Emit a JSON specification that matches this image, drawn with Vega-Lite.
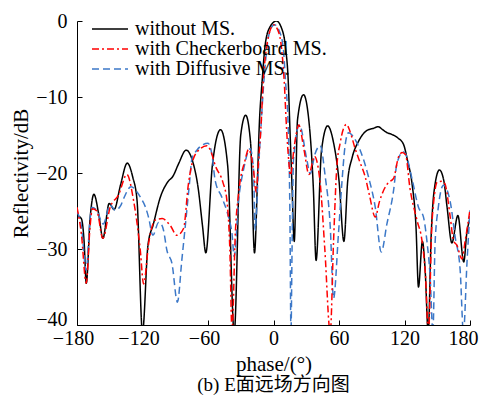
{
  "$schema": "https://vega.github.io/schema/vega-lite/v6.json",
  "width": 393,
  "height": 304,
  "autosize": {"type": "none"},
  "padding": {"left": 77, "top": 21, "right": 10, "bottom": 72},
  "config": {
    "view": {"stroke": null},
    "font": "Liberation Serif",
    "axis": {
      "domainColor": "#000000",
      "domainWidth": 1,
      "tickColor": "#000000",
      "tickWidth": 1,
      "tickSize": -5,
      "grid": false,
      "labelFont": "Liberation Serif",
      "labelFontSize": 20,
      "labelColor": "#000000",
      "titleFont": "Liberation Serif",
      "titleFontSize": 21,
      "titleFontWeight": "normal",
      "titleColor": "#000000"
    }
  },
  "title": {
    "text": "(b) E面远场方向图",
    "orient": "bottom",
    "font": "Liberation Serif, Noto Sans CJK SC",
    "fontSize": 19,
    "fontWeight": "normal",
    "color": "#000000",
    "offset": 2
  },
  "data": {
    "values": [
      {"s": "without MS.", "x": -180, "y": -25.6},
      {"s": "without MS.", "x": -176, "y": -26.0},
      {"s": "without MS.", "x": -173.5, "y": -29},
      {"s": "without MS.", "x": -171.5, "y": -34.5},
      {"s": "without MS.", "x": -168, "y": -26},
      {"s": "without MS.", "x": -164.5, "y": -22.8},
      {"s": "without MS.", "x": -160, "y": -25.5},
      {"s": "without MS.", "x": -156.3, "y": -28.6},
      {"s": "without MS.", "x": -150.5, "y": -24.0},
      {"s": "without MS.", "x": -146, "y": -24.8},
      {"s": "without MS.", "x": -140, "y": -21.5},
      {"s": "without MS.", "x": -134, "y": -18.7},
      {"s": "without MS.", "x": -129, "y": -20.5},
      {"s": "without MS.", "x": -125, "y": -23.6},
      {"s": "without MS.", "x": -120, "y": -41},
      {"s": "without MS.", "x": -115, "y": -29.5},
      {"s": "without MS.", "x": -110, "y": -26.7},
      {"s": "without MS.", "x": -103.7, "y": -23.2},
      {"s": "without MS.", "x": -97, "y": -21.2},
      {"s": "without MS.", "x": -92, "y": -20.4},
      {"s": "without MS.", "x": -87, "y": -18.8},
      {"s": "without MS.", "x": -80, "y": -17.0},
      {"s": "without MS.", "x": -74, "y": -18.5},
      {"s": "without MS.", "x": -69, "y": -22},
      {"s": "without MS.", "x": -65, "y": -27},
      {"s": "without MS.", "x": -62, "y": -30.5},
      {"s": "without MS.", "x": -56, "y": -19},
      {"s": "without MS.", "x": -48.5, "y": -14.3},
      {"s": "without MS.", "x": -42, "y": -19},
      {"s": "without MS.", "x": -36, "y": -41},
      {"s": "without MS.", "x": -30, "y": -15},
      {"s": "without MS.", "x": -25.5, "y": -12.4},
      {"s": "without MS.", "x": -21, "y": -16},
      {"s": "without MS.", "x": -17.4, "y": -30.5},
      {"s": "without MS.", "x": -14.5, "y": -20},
      {"s": "without MS.", "x": -13.1, "y": -14},
      {"s": "without MS.", "x": -10.4, "y": -7.9},
      {"s": "without MS.", "x": -7.9, "y": -3.5},
      {"s": "without MS.", "x": -4, "y": -1},
      {"s": "without MS.", "x": 2.7, "y": 0},
      {"s": "without MS.", "x": 7, "y": -0.8},
      {"s": "without MS.", "x": 11, "y": -3.5},
      {"s": "without MS.", "x": 13.5, "y": -7.9},
      {"s": "without MS.", "x": 15, "y": -14},
      {"s": "without MS.", "x": 16.8, "y": -21},
      {"s": "without MS.", "x": 19, "y": -29},
      {"s": "without MS.", "x": 22, "y": -13},
      {"s": "without MS.", "x": 27.5, "y": -9.7},
      {"s": "without MS.", "x": 33, "y": -14},
      {"s": "without MS.", "x": 36.5, "y": -22},
      {"s": "without MS.", "x": 39, "y": -31.5},
      {"s": "without MS.", "x": 44, "y": -17},
      {"s": "without MS.", "x": 49.6, "y": -13.8},
      {"s": "without MS.", "x": 55, "y": -16},
      {"s": "without MS.", "x": 60, "y": -21},
      {"s": "without MS.", "x": 64.5, "y": -29},
      {"s": "without MS.", "x": 68, "y": -21},
      {"s": "without MS.", "x": 72, "y": -18},
      {"s": "without MS.", "x": 78, "y": -15.8},
      {"s": "without MS.", "x": 85.6, "y": -14.4},
      {"s": "without MS.", "x": 92, "y": -14.1},
      {"s": "without MS.", "x": 95.8, "y": -13.9},
      {"s": "without MS.", "x": 100, "y": -14.3},
      {"s": "without MS.", "x": 104, "y": -14.7},
      {"s": "without MS.", "x": 108, "y": -14.9},
      {"s": "without MS.", "x": 114, "y": -15.4},
      {"s": "without MS.", "x": 119, "y": -16.2},
      {"s": "without MS.", "x": 123, "y": -18.5},
      {"s": "without MS.", "x": 127, "y": -21.5},
      {"s": "without MS.", "x": 130.5, "y": -27},
      {"s": "without MS.", "x": 132.8, "y": -35},
      {"s": "without MS.", "x": 136.4, "y": -29},
      {"s": "without MS.", "x": 139, "y": -33},
      {"s": "without MS.", "x": 141.7, "y": -41},
      {"s": "without MS.", "x": 144.5, "y": -28},
      {"s": "without MS.", "x": 147, "y": -22.5},
      {"s": "without MS.", "x": 152, "y": -19.6},
      {"s": "without MS.", "x": 156, "y": -21},
      {"s": "without MS.", "x": 159, "y": -24.5},
      {"s": "without MS.", "x": 163.4, "y": -29.2},
      {"s": "without MS.", "x": 168.9, "y": -25.6},
      {"s": "without MS.", "x": 174.3, "y": -31.7},
      {"s": "without MS.", "x": 177, "y": -28},
      {"s": "without MS.", "x": 180, "y": -26},

      {"s": "with Diffusive MS.", "x": -180, "y": -25.1},
      {"s": "with Diffusive MS.", "x": -176, "y": -27},
      {"s": "with Diffusive MS.", "x": -171.6, "y": -32.8},
      {"s": "with Diffusive MS.", "x": -168, "y": -26},
      {"s": "with Diffusive MS.", "x": -166.3, "y": -24.5},
      {"s": "with Diffusive MS.", "x": -162, "y": -24.9},
      {"s": "with Diffusive MS.", "x": -156, "y": -26.7},
      {"s": "with Diffusive MS.", "x": -149.6, "y": -24.2},
      {"s": "with Diffusive MS.", "x": -145, "y": -24.9},
      {"s": "with Diffusive MS.", "x": -140, "y": -24.3},
      {"s": "with Diffusive MS.", "x": -136.8, "y": -23.2},
      {"s": "with Diffusive MS.", "x": -130.5, "y": -21.8},
      {"s": "with Diffusive MS.", "x": -125, "y": -22.5},
      {"s": "with Diffusive MS.", "x": -121.5, "y": -23.3},
      {"s": "with Diffusive MS.", "x": -117, "y": -24.6},
      {"s": "with Diffusive MS.", "x": -114.5, "y": -25.8},
      {"s": "with Diffusive MS.", "x": -110.5, "y": -28.2},
      {"s": "with Diffusive MS.", "x": -105.3, "y": -26.5},
      {"s": "with Diffusive MS.", "x": -102.5, "y": -26.8},
      {"s": "with Diffusive MS.", "x": -100.8, "y": -27.5},
      {"s": "with Diffusive MS.", "x": -97.6, "y": -30.2},
      {"s": "with Diffusive MS.", "x": -93, "y": -31.9},
      {"s": "with Diffusive MS.", "x": -88, "y": -37},
      {"s": "with Diffusive MS.", "x": -84, "y": -31.5},
      {"s": "with Diffusive MS.", "x": -80.9, "y": -27.1},
      {"s": "with Diffusive MS.", "x": -77, "y": -21.4},
      {"s": "with Diffusive MS.", "x": -74.7, "y": -18.1},
      {"s": "with Diffusive MS.", "x": -70.2, "y": -17},
      {"s": "with Diffusive MS.", "x": -65, "y": -16.3},
      {"s": "with Diffusive MS.", "x": -60, "y": -16.1},
      {"s": "with Diffusive MS.", "x": -56.5, "y": -17.5},
      {"s": "with Diffusive MS.", "x": -53.4, "y": -21},
      {"s": "with Diffusive MS.", "x": -47.3, "y": -23.2},
      {"s": "with Diffusive MS.", "x": -41.2, "y": -25.8},
      {"s": "with Diffusive MS.", "x": -38, "y": -28},
      {"s": "with Diffusive MS.", "x": -36, "y": -31},
      {"s": "with Diffusive MS.", "x": -32, "y": -23.6},
      {"s": "with Diffusive MS.", "x": -27.5, "y": -19.6},
      {"s": "with Diffusive MS.", "x": -21.3, "y": -16.8},
      {"s": "with Diffusive MS.", "x": -18.3, "y": -19.6},
      {"s": "with Diffusive MS.", "x": -16.8, "y": -27.5},
      {"s": "with Diffusive MS.", "x": -14, "y": -20},
      {"s": "with Diffusive MS.", "x": -11.5, "y": -14},
      {"s": "with Diffusive MS.", "x": -8.8, "y": -7.9},
      {"s": "with Diffusive MS.", "x": -6, "y": -3.5},
      {"s": "with Diffusive MS.", "x": -2.5, "y": -1},
      {"s": "with Diffusive MS.", "x": 1, "y": -0.5},
      {"s": "with Diffusive MS.", "x": 5, "y": -1.2},
      {"s": "with Diffusive MS.", "x": 8.9, "y": -3.5},
      {"s": "with Diffusive MS.", "x": 11, "y": -7.9},
      {"s": "with Diffusive MS.", "x": 13.5, "y": -14},
      {"s": "with Diffusive MS.", "x": 15, "y": -25},
      {"s": "with Diffusive MS.", "x": 16, "y": -41},
      {"s": "with Diffusive MS.", "x": 17, "y": -30},
      {"s": "with Diffusive MS.", "x": 18.3, "y": -18.3},
      {"s": "with Diffusive MS.", "x": 23.8, "y": -13.7},
      {"s": "with Diffusive MS.", "x": 30.6, "y": -18.3},
      {"s": "with Diffusive MS.", "x": 33.6, "y": -20.1},
      {"s": "with Diffusive MS.", "x": 38, "y": -17.5},
      {"s": "with Diffusive MS.", "x": 42.8, "y": -16.4},
      {"s": "with Diffusive MS.", "x": 47.4, "y": -20.5},
      {"s": "with Diffusive MS.", "x": 52, "y": -27.1},
      {"s": "with Diffusive MS.", "x": 55, "y": -36.5},
      {"s": "with Diffusive MS.", "x": 59.5, "y": -28},
      {"s": "with Diffusive MS.", "x": 62.6, "y": -21.4},
      {"s": "with Diffusive MS.", "x": 65.5, "y": -16.5},
      {"s": "with Diffusive MS.", "x": 68.7, "y": -14.7},
      {"s": "with Diffusive MS.", "x": 73, "y": -15.2},
      {"s": "with Diffusive MS.", "x": 79.4, "y": -17},
      {"s": "with Diffusive MS.", "x": 87, "y": -20.5},
      {"s": "with Diffusive MS.", "x": 93.2, "y": -24.5},
      {"s": "with Diffusive MS.", "x": 98.7, "y": -30.4},
      {"s": "with Diffusive MS.", "x": 103.9, "y": -26.7},
      {"s": "with Diffusive MS.", "x": 110, "y": -22.3},
      {"s": "with Diffusive MS.", "x": 113, "y": -18.8},
      {"s": "with Diffusive MS.", "x": 119, "y": -17.2},
      {"s": "with Diffusive MS.", "x": 121, "y": -17.5},
      {"s": "with Diffusive MS.", "x": 126.8, "y": -20.7},
      {"s": "with Diffusive MS.", "x": 132.8, "y": -24.5},
      {"s": "with Diffusive MS.", "x": 137.4, "y": -25.8},
      {"s": "with Diffusive MS.", "x": 140.5, "y": -28.9},
      {"s": "with Diffusive MS.", "x": 143.5, "y": -33.7},
      {"s": "with Diffusive MS.", "x": 146, "y": -41},
      {"s": "with Diffusive MS.", "x": 148, "y": -29.3},
      {"s": "with Diffusive MS.", "x": 151, "y": -24.5},
      {"s": "with Diffusive MS.", "x": 155.7, "y": -21.6},
      {"s": "with Diffusive MS.", "x": 161.9, "y": -23.8},
      {"s": "with Diffusive MS.", "x": 166.4, "y": -28.4},
      {"s": "with Diffusive MS.", "x": 171, "y": -32.8},
      {"s": "with Diffusive MS.", "x": 174, "y": -41},
      {"s": "with Diffusive MS.", "x": 177.2, "y": -31.9},
      {"s": "with Diffusive MS.", "x": 180, "y": -24.9},

      {"s": "with Checkerboard MS.", "x": -180, "y": -24.5},
      {"s": "with Checkerboard MS.", "x": -176, "y": -28},
      {"s": "with Checkerboard MS.", "x": -171.6, "y": -34.5},
      {"s": "with Checkerboard MS.", "x": -168, "y": -27},
      {"s": "with Checkerboard MS.", "x": -166, "y": -24.7},
      {"s": "with Checkerboard MS.", "x": -161.8, "y": -25},
      {"s": "with Checkerboard MS.", "x": -156.3, "y": -28.6},
      {"s": "with Checkerboard MS.", "x": -149.6, "y": -24.5},
      {"s": "with Checkerboard MS.", "x": -142, "y": -22.9},
      {"s": "with Checkerboard MS.", "x": -134.3, "y": -20.2},
      {"s": "with Checkerboard MS.", "x": -128.2, "y": -23.6},
      {"s": "with Checkerboard MS.", "x": -122, "y": -30.2},
      {"s": "with Checkerboard MS.", "x": -119, "y": -34.6},
      {"s": "with Checkerboard MS.", "x": -114, "y": -28.9},
      {"s": "with Checkerboard MS.", "x": -108.4, "y": -26.2},
      {"s": "with Checkerboard MS.", "x": -102, "y": -26.0},
      {"s": "with Checkerboard MS.", "x": -94.6, "y": -26.9},
      {"s": "with Checkerboard MS.", "x": -88.5, "y": -28.2},
      {"s": "with Checkerboard MS.", "x": -82.4, "y": -27.3},
      {"s": "with Checkerboard MS.", "x": -77.9, "y": -21.4},
      {"s": "with Checkerboard MS.", "x": -73.3, "y": -18.1},
      {"s": "with Checkerboard MS.", "x": -67, "y": -16.8},
      {"s": "with Checkerboard MS.", "x": -61, "y": -16.4},
      {"s": "with Checkerboard MS.", "x": -57, "y": -17.3},
      {"s": "with Checkerboard MS.", "x": -53.4, "y": -19.0},
      {"s": "with Checkerboard MS.", "x": -46.4, "y": -21.2},
      {"s": "with Checkerboard MS.", "x": -42.7, "y": -23.6},
      {"s": "with Checkerboard MS.", "x": -40, "y": -30},
      {"s": "with Checkerboard MS.", "x": -38, "y": -41},
      {"s": "with Checkerboard MS.", "x": -35, "y": -28},
      {"s": "with Checkerboard MS.", "x": -32, "y": -22.7},
      {"s": "with Checkerboard MS.", "x": -26, "y": -18.3},
      {"s": "with Checkerboard MS.", "x": -22.9, "y": -16.9},
      {"s": "with Checkerboard MS.", "x": -18.3, "y": -19.6},
      {"s": "with Checkerboard MS.", "x": -16, "y": -22.5},
      {"s": "with Checkerboard MS.", "x": -13.5, "y": -18},
      {"s": "with Checkerboard MS.", "x": -11.5, "y": -14},
      {"s": "with Checkerboard MS.", "x": -9.4, "y": -7.9},
      {"s": "with Checkerboard MS.", "x": -6.4, "y": -3.5},
      {"s": "with Checkerboard MS.", "x": -3, "y": -1.2},
      {"s": "with Checkerboard MS.", "x": 0, "y": -0.5},
      {"s": "with Checkerboard MS.", "x": 4, "y": -1.2},
      {"s": "with Checkerboard MS.", "x": 7.3, "y": -3.5},
      {"s": "with Checkerboard MS.", "x": 9.8, "y": -7.9},
      {"s": "with Checkerboard MS.", "x": 11.9, "y": -14},
      {"s": "with Checkerboard MS.", "x": 14, "y": -18.5},
      {"s": "with Checkerboard MS.", "x": 15.5, "y": -20.3},
      {"s": "with Checkerboard MS.", "x": 19, "y": -16.5},
      {"s": "with Checkerboard MS.", "x": 23.2, "y": -13.7},
      {"s": "with Checkerboard MS.", "x": 28, "y": -17},
      {"s": "with Checkerboard MS.", "x": 32.5, "y": -20.2},
      {"s": "with Checkerboard MS.", "x": 37.5, "y": -17.8},
      {"s": "with Checkerboard MS.", "x": 42.8, "y": -21.4},
      {"s": "with Checkerboard MS.", "x": 47, "y": -30},
      {"s": "with Checkerboard MS.", "x": 52, "y": -41},
      {"s": "with Checkerboard MS.", "x": 55, "y": -29},
      {"s": "with Checkerboard MS.", "x": 58, "y": -19.2},
      {"s": "with Checkerboard MS.", "x": 61, "y": -16.1},
      {"s": "with Checkerboard MS.", "x": 66.8, "y": -13.6},
      {"s": "with Checkerboard MS.", "x": 70, "y": -14.5},
      {"s": "with Checkerboard MS.", "x": 74.8, "y": -16.8},
      {"s": "with Checkerboard MS.", "x": 79, "y": -18.5},
      {"s": "with Checkerboard MS.", "x": 84, "y": -20.5},
      {"s": "with Checkerboard MS.", "x": 88, "y": -23},
      {"s": "with Checkerboard MS.", "x": 93.2, "y": -25.8},
      {"s": "with Checkerboard MS.", "x": 97, "y": -23.8},
      {"s": "with Checkerboard MS.", "x": 100.8, "y": -22.3},
      {"s": "with Checkerboard MS.", "x": 105, "y": -21.3},
      {"s": "with Checkerboard MS.", "x": 110, "y": -20.7},
      {"s": "with Checkerboard MS.", "x": 114.5, "y": -17.9},
      {"s": "with Checkerboard MS.", "x": 118, "y": -17.3},
      {"s": "with Checkerboard MS.", "x": 121, "y": -17.6},
      {"s": "with Checkerboard MS.", "x": 125, "y": -22},
      {"s": "with Checkerboard MS.", "x": 131.4, "y": -26.2},
      {"s": "with Checkerboard MS.", "x": 136, "y": -28.9},
      {"s": "with Checkerboard MS.", "x": 139, "y": -33},
      {"s": "with Checkerboard MS.", "x": 142, "y": -41},
      {"s": "with Checkerboard MS.", "x": 145, "y": -27},
      {"s": "with Checkerboard MS.", "x": 146.6, "y": -24},
      {"s": "with Checkerboard MS.", "x": 150, "y": -21.2},
      {"s": "with Checkerboard MS.", "x": 154.5, "y": -21.1},
      {"s": "with Checkerboard MS.", "x": 157, "y": -21.4},
      {"s": "with Checkerboard MS.", "x": 161.9, "y": -25.8},
      {"s": "with Checkerboard MS.", "x": 164.9, "y": -28.9},
      {"s": "with Checkerboard MS.", "x": 168, "y": -29.5},
      {"s": "with Checkerboard MS.", "x": 172.6, "y": -31.3},
      {"s": "with Checkerboard MS.", "x": 175.6, "y": -28.9},
      {"s": "with Checkerboard MS.", "x": 180, "y": -24.8}
    ]
  },
  "mark": {"type": "line", "interpolate": "monotone", "strokeWidth": 1.5, "clip": true},
  "encoding": {
    "x": {
      "field": "x",
      "type": "quantitative",
      "scale": {"domain": [-180, 180], "nice": false, "zero": false},
      "axis": {
        "values": [-180, -120, -60, 0, 60, 120, 180],
        "title": "phase/(°)",
        "labelFont": "Liberation Serif",
        "titleFont": "Liberation Serif",
        "labelPadding": 8,
        "titlePadding": 5,
        "labelFlush": false,
        "labelOffset": {"condition": [{"test": "datum.value === 180", "value": -7}, {"test": "datum.value < 0", "value": -4}], "value": 0}
      }
    },
    "y": {
      "field": "y",
      "type": "quantitative",
      "scale": {"domain": [-40, 0], "nice": false, "zero": false},
      "axis": {
        "values": [-40, -30, -20, -10, 0],
        "title": "Reflectivity/dB",
        "labelFont": "Liberation Serif",
        "titleFont": "Liberation Serif",
        "labelPadding": 15,
        "titlePadding": 4,
        "labelFlush": false,
        "labelBaseline": {"condition": {"test": "datum.value === -40", "value": "alphabetic"}, "value": "middle"}
      }
    },
    "color": {
      "field": "s",
      "type": "nominal",
      "scale": {"domain": ["without MS.", "with Checkerboard MS.", "with Diffusive MS."], "range": ["#000000", "#FF0000", "#3C78C8"]},
      "legend": {
        "orient": "none",
        "legendX": 23,
        "legendY": -2,
        "title": null,
        "symbolType": "M-3,0H3",
        "symbolSize": 144,
        "symbolStrokeWidth": 1.5,
        "labelOffset": 15,
        "labelLimit": 0,
        "labelFont": "Liberation Serif",
        "labelFontSize": 20,
        "labelColor": "#000000",
        "rowPadding": 0,
        "padding": 0
      }
    },
    "strokeDash": {
      "field": "s",
      "type": "nominal",
      "scale": {"domain": ["without MS.", "with Checkerboard MS.", "with Diffusive MS."], "range": [[1, 0], [7, 3, 2, 3], [7, 4]]},
      "legend": {
        "orient": "none",
        "legendX": 23,
        "legendY": -2,
        "title": null,
        "symbolType": "M-3,0H3",
        "symbolSize": 144,
        "symbolStrokeWidth": 1.5,
        "labelOffset": 15,
        "labelLimit": 0,
        "labelFont": "Liberation Serif",
        "labelFontSize": 20,
        "labelColor": "#000000",
        "rowPadding": 0,
        "padding": 0
      }
    }
  }
}
